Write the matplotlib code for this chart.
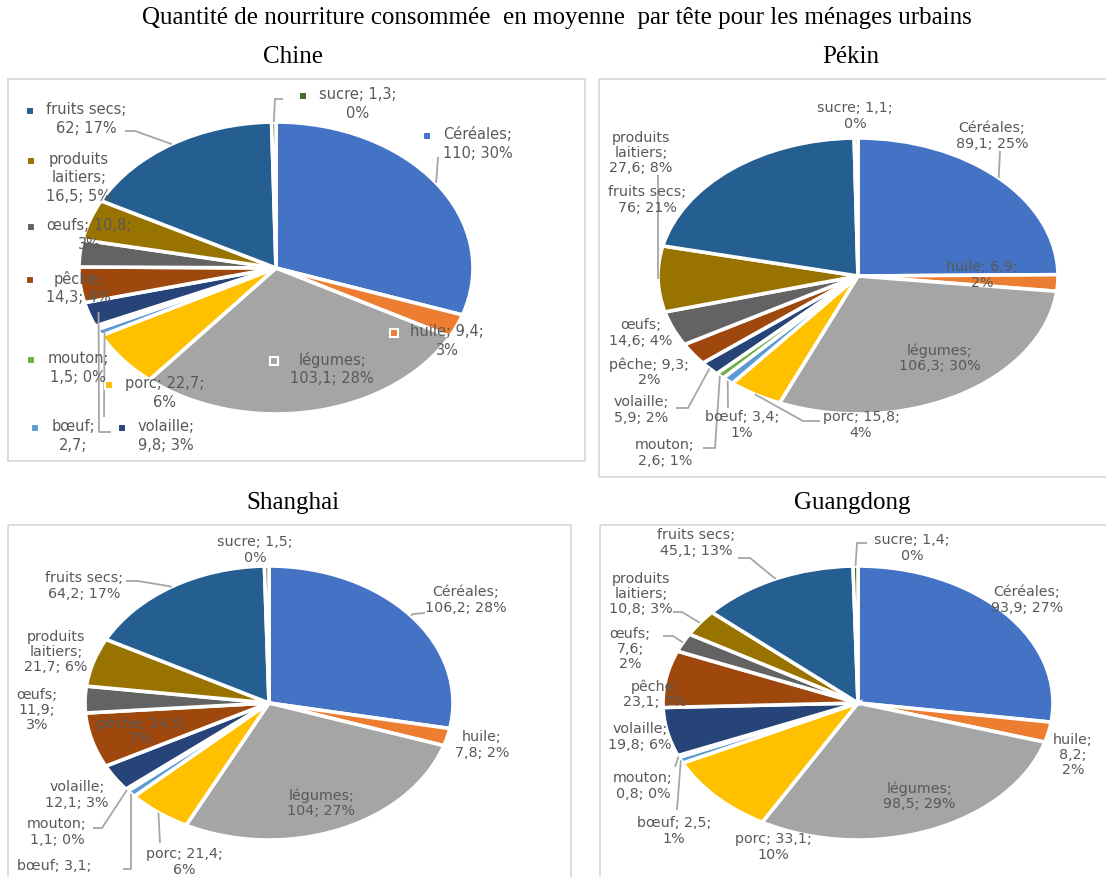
import numpy as np
import matplotlib.pyplot as plt

# ---- data ----
categories = ["Céréales", "huile", "légumes", "porc", "bœuf", "mouton",
              "volaille", "pêche", "œufs", "produits laitiers", "fruits secs", "sucre"]
colors = ["#4472C4", "#ED7D31", "#A5A5A5", "#FFC000", "#5B9BD5", "#70AD47",
          "#264478", "#9E480E", "#636363", "#997300", "#255E91", "#43682B"]

chine = [110, 9.4, 103.1, 22.7, 2.7, 1.5, 9.8, 14.3, 10.8, 16.5, 62, 1.3]
pekin = [89.1, 6.9, 106.3, 15.8, 3.4, 2.6, 5.9, 9.3, 14.6, 27.6, 76, 1.1]
shanghai = [106.2, 7.8, 104, 21.4, 3.1, 1.1, 12.1, 24.5, 11.9, 21.7, 64.2, 1.5]
guangdong = [93.9, 8.2, 98.5, 33.1, 2.5, 0.8, 19.8, 23.1, 7.6, 10.8, 45.1, 1.4]

chine_pct = [30, 3, 28, 6, 1, 0, 3, 4, 3, 5, 17, 0]
pekin_pct = [25, 2, 30, 4, 1, 1, 2, 2, 4, 8, 21, 0]
shanghai_pct = [28, 2, 27, 6, 1, 0, 3, 7, 3, 6, 17, 0]
guangdong_pct = [27, 2, 29, 10, 1, 0, 6, 7, 2, 3, 13, 0]

title = "Quantité de nourriture consommée  en moyenne  par tête pour les ménages urbains"

# ---- layout (pixels) ----
W, H = 1106, 877
A = "{n};\n{v}; {p}"
B = "{n}; {v};\n{p}"
C = "{n};\n{v};\n{p}"
L = "{nl};\n{v}; {p}"

panels = [
    dict(name="Chine", values=chine, pct=chine_pct, title_xy=(293, 57),
         box=(8, 79, 585, 461), center=(276, 268), radii=(197, 146),
         size=10.5, spacing=1.33, keys=True,
         labels=[(478, 144, A, [(438, 157)], 1.0),
                 (447, 341, B, None, 1.0),
                 (332, 369, A, None, 1.0),
                 (165, 393, B, None, 1.0),
                 (73, 436, "{n};\n{v};", [(104, 417)], 0.97),
                 (78, 368, A, None, 1.0),
                 (166, 436, A, [(111, 432), (99, 432)], 0.95),
                 (78, 288, A, None, 1.0),
                 (89, 235, B, None, 1.0),
                 (79, 178, L, None, 1.0),
                 (86, 119, A, [(125, 131), (135, 131)], 1.0),
                 (358, 104, B, [(283, 99), (275, 99)], 1.0)]),
    dict(name="Pékin", values=pekin, pct=pekin_pct, title_xy=(851, 57),
         box=(599, 79, 1110, 477), center=(858, 276), radii=(200, 138),
         size=10.3, spacing=1.12, keys=False,
         labels=[(992, 136, A, [(1000, 151)], 1.0),
                 (982, 275, B, None, 1.0),
                 (940, 358, A, None, 1.0),
                 (861, 425, B, [(820, 421), (803, 421)], 1.0),
                 (742, 425, B, [(728, 408)], 1.0),
                 (665, 453, A, [(703, 448), (715, 448)], 1.0),
                 (641, 410, A, [(676, 408), (688, 408)], 1.0),
                 (649, 372, B, None, 1.0),
                 (641, 333, A, None, 1.0),
                 (641, 153, L, [(658, 175)], 1.0),
                 (647, 200, A, None, 1.0),
                 (855, 116, B, None, 1.0)]),
    dict(name="Shanghai", values=shanghai, pct=shanghai_pct, title_xy=(293, 503),
         box=(8, 525, 571, 890), center=(269, 703), radii=(184, 137),
         size=10.3, spacing=1.12, keys=False,
         labels=[(466, 600, A, [(425, 613), (413, 614)], 1.0),
                 (482, 745, A, None, 1.0),
                 (321, 803, A, None, 1.0),
                 (184, 862, B, [(160, 843)], 1.0),
                 (54, 866, "{n}; {v};", [(123, 869), (131, 869)], 1.0),
                 (57, 832, A, [(93, 828), (102, 828)], 1.0),
                 (77, 795, A, None, 1.0),
                 (141, 731, B, None, 1.0),
                 (37, 710, C, None, 1.0),
                 (56, 652, L, None, 1.0),
                 (84, 586, A, [(126, 581), (138, 581)], 1.0),
                 (255, 550, B, None, 1.0)]),
    dict(name="Guangdong", values=guangdong, pct=guangdong_pct, title_xy=(852, 503),
         box=(600, 525, 1110, 890), center=(858, 703), radii=(195, 137),
         size=10.3, spacing=1.12, keys=False,
         labels=[(1027, 600, A, None, 1.0),
                 (1073, 755, C, None, 1.0),
                 (919, 796, A, None, 1.0),
                 (773, 847, B, None, 1.0),
                 (674, 831, B, [(677, 810)], 1.0),
                 (643, 786, A, [(675, 767)], 1.0),
                 (640, 737, A, None, 1.0),
                 (655, 694, A, None, 1.0),
                 (630, 649, C, [(663, 636), (673, 636)], 1.0),
                 (641, 594, L, [(673, 612), (682, 612)], 1.0),
                 (696, 543, A, [(738, 558), (750, 558)], 1.0),
                 (912, 548, B, [(867, 543), (857, 543)], 1.0)]),
]

TEXT = "#595959"
LINE = "#A6A6A6"
SERIF = ["Liberation Serif", "DejaVu Serif"]


def fmt(v):
    return ("%g" % v).replace(".", ",")


fig = plt.figure(figsize=(W / 100, H / 100), dpi=100)
ov = fig.add_axes([0, 0, 1, 1], zorder=5)
ov.set_xlim(0, W)
ov.set_ylim(H, 0)
ov.axis("off")
ov.patch.set_alpha(0)

ov.text(557, 18, title, ha="center", va="center", fontsize=18,
        family=SERIF, color="black")

keyed = []
for p in panels:
    cx, cy = p["center"]
    rx, ry = p["radii"]
    x0, y0, x1, y1 = p["box"]
    ov.add_patch(plt.Rectangle((x0, y0), x1 - x0, y1 - y0, fill=False,
                               edgecolor="#D9D9D9", lw=1.3))
    ov.text(*p["title_xy"], p["name"], ha="center", va="center",
            fontsize=18, family=SERIF, color="black")

    ax = fig.add_axes([(cx - rx) / W, 1 - (cy + ry) / H, 2 * rx / W, 2 * ry / H], zorder=1)
    wedges, _ = ax.pie(p["values"], colors=colors, startangle=90, counterclock=False,
                       wedgeprops=dict(edgecolor="white", linewidth=2.6))
    ax.set_aspect("auto")
    ax.set_xlim(-1, 1)
    ax.set_ylim(-1, 1)

    for i, (lx, ly, tpl, leader, rend) in enumerate(p["labels"]):
        name = categories[i]
        s = tpl.format(n=name, nl=name.replace(" ", "\n"), v=fmt(p["values"][i]),
                       p="%d%%" % p["pct"][i])
        t = ov.text(lx, ly, s, ha="center", va="center", multialignment="center",
                    fontsize=p["size"], linespacing=p["spacing"], color=TEXT,
                    family="DejaVu Sans")
        if leader:
            w = wedges[i]
            th = np.deg2rad((w.theta1 + w.theta2) / 2)
            ex = cx + rx * rend * np.cos(th)
            ey = cy - ry * rend * np.sin(th)
            xs = [q[0] for q in leader] + [ex]
            ys = [q[1] for q in leader] + [ey]
            ov.plot(xs, ys, color=LINE, lw=1.3, solid_capstyle="butt")
        if p["keys"]:
            keyed.append((t, colors[i]))

# legend keys in the Chine labels
fig.canvas.draw()
r = fig.canvas.get_renderer()
for t, c in keyed:
    bb = t.get_window_extent(r)
    ov.plot(bb.x0 - 16, H - bb.y1 + 9, marker="s", ms=5.5, color=c,
            mec="white", mew=1.5)

fig.savefig("out.png", dpi=100)
